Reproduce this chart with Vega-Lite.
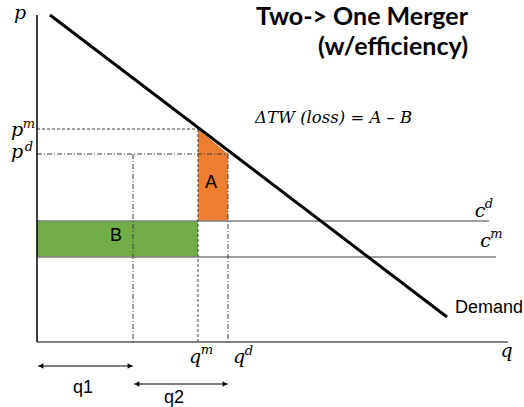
{
  "$schema": "https://vega.github.io/schema/vega-lite/v6.json",
  "width": 524,
  "height": 407,
  "autosize": "none",
  "padding": 0,
  "background": "white",
  "config": {"view": {"stroke": null}},
  "datasets": {
    "areaB": [{"q0": 0, "q1": 32.2, "p0": 17, "p1": 24.2}],
    "areaA": [
      {"q": 32.2, "top": 42.6, "base": 24.2},
      {"q": 38.2, "top": 37.6, "base": 24.2}
    ],
    "costs": [
      {"name": "cd", "q0": 0, "q1": 90.4, "p": 24.2},
      {"name": "cm", "q0": 0, "q1": 91.8, "p": 17}
    ],
    "demand": [{"q": 2.6, "p": 65.4}, {"q": 82, "p": 5}],
    "dashed": [
      {"q0": 0, "q1": 32.2, "p0": 42.6, "p1": 42.6},
      {"q0": 32.2, "q1": 32.2, "p0": 42.6, "p1": 0}
    ],
    "dashdot": [
      {"q0": 0, "q1": 38.2, "p0": 37.6, "p1": 37.6},
      {"q0": 19.2, "q1": 19.2, "p0": 37.6, "p1": 0},
      {"q0": 38.2, "q1": 38.2, "p0": 37.6, "p1": 0}
    ],
    "spans": [
      {"label": "q1", "q0": 0.2, "q1": 19.2, "p": -4.8},
      {"label": "q2", "q0": 19.4, "q1": 38.2, "p": -8.4}
    ],
    "heads": [
      {"q": 0.8, "p": -4.8, "end": "left"},
      {"q": 18.6, "p": -4.8, "end": "right"},
      {"q": 20.0, "p": -8.4, "end": "left"},
      {"q": 37.6, "p": -8.4, "end": "right"}
    ],
    "symbols": [
      {"t": "p", "q": -3.4, "p": 64.6},
      {"t": "p", "q": -4.0, "p": 41.2},
      {"t": "p", "q": -4.0, "p": 36.8},
      {"t": "q", "q": 31.6, "p": -4.2},
      {"t": "q", "q": 40.4, "p": -4.2},
      {"t": "c", "q": 88.6, "p": 25},
      {"t": "c", "q": 89.7, "p": 19},
      {"t": "q", "q": 93.9, "p": -3}
    ],
    "superscripts": [
      {"t": "m", "q": -1.6, "p": 42.8},
      {"t": "d", "q": -1.6, "p": 38.2},
      {"t": "m", "q": 34.0, "p": -2.4},
      {"t": "d", "q": 42.4, "p": -2.6},
      {"t": "d", "q": 90.4, "p": 26.8},
      {"t": "m", "q": 91.9, "p": 20.8}
    ],
    "labels": [
      {"t": "A", "q": 34.8, "p": 31.8},
      {"t": "B", "q": 15.8, "p": 21.2},
      {"t": "q1", "q": 9.2, "p": -9.2},
      {"t": "q2", "q": 27.4, "p": -11.2}
    ],
    "title": [
      {"t": "Two-> One Merger", "q": 86.2, "p": 63.4},
      {"t": "(w/efficiency)", "q": 86.2, "p": 57.4}
    ]
  },
  "encoding": {
    "x": {"type": "quantitative", "scale": {"domain": [-7.4, 97.4], "nice": false, "zero": false}, "axis": null},
    "y": {"type": "quantitative", "scale": {"domain": [-13, 68.4], "nice": false, "zero": false}, "axis": null}
  },
  "layer": [
    {
      "data": {"name": "areaB"},
      "mark": {"type": "rect", "fill": "#70AD47"},
      "encoding": {
        "x": {"field": "q0", "type": "quantitative"},
        "x2": {"field": "q1"},
        "y": {"field": "p0", "type": "quantitative"},
        "y2": {"field": "p1"}
      }
    },
    {
      "data": {"name": "areaA"},
      "mark": {"type": "area", "fill": "#ED7D31", "orient": "vertical"},
      "encoding": {
        "x": {"field": "q", "type": "quantitative"},
        "y": {"field": "top", "type": "quantitative"},
        "y2": {"field": "base"}
      }
    },
    {
      "data": {"name": "costs"},
      "mark": {"type": "rule", "stroke": "#7F7F7F", "strokeWidth": 1.5},
      "encoding": {
        "x": {"field": "q0", "type": "quantitative"},
        "x2": {"field": "q1"},
        "y": {"field": "p", "type": "quantitative"}
      }
    },
    {
      "data": {"name": "dashed"},
      "mark": {"type": "rule", "stroke": "#404040", "strokeWidth": 1, "strokeDash": [3, 2]},
      "encoding": {
        "x": {"field": "q0", "type": "quantitative"},
        "x2": {"field": "q1"},
        "y": {"field": "p0", "type": "quantitative"},
        "y2": {"field": "p1"}
      }
    },
    {
      "data": {"name": "dashdot"},
      "mark": {"type": "rule", "stroke": "#404040", "strokeWidth": 1, "strokeDash": [5, 2, 1, 2]},
      "encoding": {
        "x": {"field": "q0", "type": "quantitative"},
        "x2": {"field": "q1"},
        "y": {"field": "p0", "type": "quantitative"},
        "y2": {"field": "p1"}
      }
    },
    {
      "data": {"values": [{"q0": 0, "q1": 94.2, "p": 0}]},
      "mark": {"type": "rule", "stroke": "#595959", "strokeWidth": 1.5},
      "encoding": {
        "x": {"field": "q0", "type": "quantitative"},
        "x2": {"field": "q1"},
        "y": {"field": "p", "type": "quantitative"}
      }
    },
    {
      "data": {"values": [{"q": 0, "p0": 0, "p1": 65.4}]},
      "mark": {"type": "rule", "stroke": "#000000", "strokeWidth": 1.5},
      "encoding": {
        "x": {"field": "q", "type": "quantitative"},
        "y": {"field": "p0", "type": "quantitative"},
        "y2": {"field": "p1"}
      }
    },
    {
      "data": {"name": "demand"},
      "mark": {"type": "line", "stroke": "#000000", "strokeWidth": 3},
      "encoding": {
        "x": {"field": "q", "type": "quantitative"},
        "y": {"field": "p", "type": "quantitative"}
      }
    },
    {
      "data": {"name": "spans"},
      "mark": {"type": "rule", "stroke": "#000000", "strokeWidth": 1},
      "encoding": {
        "x": {"field": "q0", "type": "quantitative"},
        "x2": {"field": "q1"},
        "y": {"field": "p", "type": "quantitative"}
      }
    },
    {
      "data": {"name": "heads"},
      "mark": {"type": "point", "filled": true, "fill": "#000000", "size": 30, "opacity": 1},
      "encoding": {
        "x": {"field": "q", "type": "quantitative"},
        "y": {"field": "p", "type": "quantitative"},
        "shape": {"field": "end", "type": "nominal", "scale": {"domain": ["left", "right"], "range": ["triangle-left", "triangle-right"]}, "legend": null}
      }
    },
    {
      "data": {"name": "symbols"},
      "mark": {"type": "text", "font": "DejaVu Serif", "fontStyle": "italic", "fontSize": 19, "align": "center", "baseline": "alphabetic", "fill": "#000000"},
      "encoding": {
        "x": {"field": "q", "type": "quantitative"},
        "y": {"field": "p", "type": "quantitative"},
        "text": {"field": "t"}
      }
    },
    {
      "data": {"name": "superscripts"},
      "mark": {"type": "text", "font": "DejaVu Serif", "fontStyle": "italic", "fontSize": 13, "align": "center", "baseline": "alphabetic", "fill": "#000000"},
      "encoding": {
        "x": {"field": "q", "type": "quantitative"},
        "y": {"field": "p", "type": "quantitative"},
        "text": {"field": "t"}
      }
    },
    {
      "data": {"name": "labels"},
      "mark": {"type": "text", "font": "Liberation Sans", "fontSize": 18, "align": "center", "baseline": "middle", "fill": "#000000"},
      "encoding": {
        "x": {"field": "q", "type": "quantitative"},
        "y": {"field": "p", "type": "quantitative"},
        "text": {"field": "t"}
      }
    },
    {
      "data": {"values": [{"t": "Demand", "q": 83.6, "p": 6.8}]},
      "mark": {"type": "text", "font": "Liberation Sans", "fontSize": 18, "align": "left", "baseline": "middle", "fill": "#000000"},
      "encoding": {
        "x": {"field": "q", "type": "quantitative"},
        "y": {"field": "p", "type": "quantitative"},
        "text": {"field": "t"}
      }
    },
    {
      "data": {"values": [{"t": "ΔTW (loss) = A –  B", "q": 43.6, "p": 44.8}]},
      "mark": {"type": "text", "font": "DejaVu Serif", "fontStyle": "italic", "fontSize": 16.5, "align": "left", "baseline": "middle", "fill": "#000000"},
      "encoding": {
        "x": {"field": "q", "type": "quantitative"},
        "y": {"field": "p", "type": "quantitative"},
        "text": {"field": "t"}
      }
    },
    {
      "data": {"name": "title"},
      "mark": {"type": "text", "font": "Lato", "fontWeight": "bold", "fontSize": 25, "align": "right", "baseline": "alphabetic", "fill": "#000000"},
      "encoding": {
        "x": {"field": "q", "type": "quantitative"},
        "y": {"field": "p", "type": "quantitative"},
        "text": {"field": "t"}
      }
    }
  ]
}
